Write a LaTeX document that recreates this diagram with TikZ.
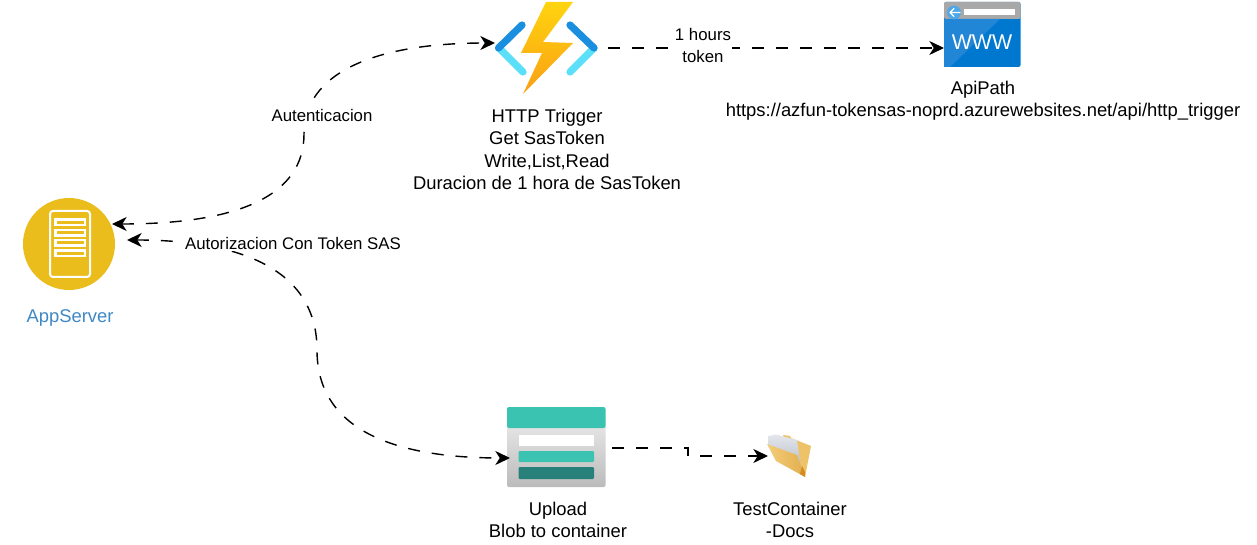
\documentclass[tikz,border=0pt]{standalone}
\usepackage{fontspec}
\setmainfont{Liberation Sans}
\usetikzlibrary{arrows.meta,calc,shapes.geometric}
\definecolor{srvgold}{HTML}{EABD1D}
\definecolor{lblblue}{HTML}{3F88C5}
\definecolor{chevdark}{HTML}{1A8FDF}
\definecolor{chevlight}{HTML}{5CE0FA}
\definecolor{bolttop}{HTML}{FFD40F}
\definecolor{boltbot}{HTML}{FA9F14}
\definecolor{webblue}{HTML}{0078D0}
\definecolor{webblue2}{HTML}{2286D6}
\definecolor{webcirc}{HTML}{4FA8E8}
\definecolor{webgrey}{HTML}{A8A8A8}
\definecolor{blobteal}{HTML}{3AC3B0}
\definecolor{blobdark}{HTML}{27807A}
\definecolor{blobtop}{HTML}{E8E8E8}
\definecolor{blobbot}{HTML}{BBBBBB}
\definecolor{foldback}{HTML}{EDC268}
\definecolor{foldfront}{HTML}{F3CD7A}
\definecolor{foldfront2}{HTML}{E2AE4E}
\definecolor{foldpaper}{HTML}{E4E7EC}
\definecolor{foldpaper2}{HTML}{B5BCC6}
\definecolor{foldedge}{HTML}{D98A1E}
\tikzset{
  x=0.75pt,y=-0.75pt,
  iconbox/.style={rectangle,draw=none,fill=none,inner sep=0pt,outer sep=0pt,anchor=north west},
  caption/.style={font=\fontsize{13.8}{16.8}\selectfont,align=center,inner sep=0pt,text=black},
  edgelabel/.style={font=\fontsize{12.6}{16}\selectfont,align=center,fill=white,inner sep=1pt,text=black},
  flow/.style={draw=black,line width=1.05pt,dash pattern=on 9pt off 9pt},
  tipped/.style={-{Stealth[length=11pt,width=10.5pt,inset=3.3pt]}},
  bothtipped/.style={{Stealth[length=11pt,width=10.5pt,inset=3.3pt]}-{Stealth[length=11pt,width=10.5pt,inset=3.3pt]}},
}
\begin{document}
\begin{tikzpicture}
\useasboundingbox[fill=white] (0,0) rectangle (1257,545);

% --- icon boxes
\node[iconbox,minimum width=69pt,minimum height=69pt] (app) at (23,198) {};
\node[iconbox,minimum width=82.5pt,minimum height=70.5pt] (func) at (494,0) {};
\node[iconbox,minimum width=57.75pt,minimum height=49.5pt] (web) at (944,2) {};
\node[iconbox,minimum width=74.25pt,minimum height=60pt] (blob) at (507,407) {};
\node[iconbox,minimum width=33pt,minimum height=33pt] (folder) at (768,434) {};

% --- AppServer
\fill[srvgold] (69,244) circle (34.5pt);
\draw[white,line width=1.5pt,rounded corners=2.2pt] (50,277) -- (50,211) -- (90,211) -- (90,277) -- cycle;
\foreach \yy in {219.5,230,240,250.5}
  \draw[white,line width=1.8pt] (55.5,\yy) rectangle (85,\yy+5.5);

% --- Function
\draw[chevlight,line width=5.4pt,line cap=round] (499,48) -- (523,72);
\draw[chevlight,line width=5.4pt,line cap=round] (594,48) -- (570,72);
\draw[chevdark,line width=5.4pt,line cap=round] (522,25) -- (498.5,48);
\draw[chevdark,line width=5.4pt,line cap=round] (570,25) -- (594,48);
\shade[top color=bolttop,bottom color=boltbot]
  (546,2) -- (573,2) -- (543,42) -- (573,43) -- (523,94) -- (542,53) -- (521,53) -- cycle;

% --- Web page
\fill[webblue,rounded corners=1.5pt] (944,2) rectangle (1020.5,67);
\fill[webgrey,rounded corners=1.5pt] (944,2) -- (1020.5,2) -- (1020.5,19) -- (944,19) -- cycle;
\fill[webblue2] (944,19) -- (1000,19) -- (950,67) -- (944,67) -- cycle;
\fill[white] (964,9.5) rectangle (1015,15);
\fill[webcirc] (954,12.5) circle (5.2pt);
\draw[white,line width=0.9pt,line cap=round,line join=round] (960,12.5) -- (950,12.5) (954,8.5) -- (950,12.5) -- (954,16.5);
\node[font=\fontsize{16}{16}\selectfont,text=white,inner sep=0pt] (wwwtext) at (982,42.5) {WWW};

% --- Blob
\shade[top color=blobtop,bottom color=blobbot,rounded corners=1.5pt] (507,420) rectangle (605.5,487);
\fill[blobteal,rounded corners=1.5pt] (507,407) rectangle (605.5,428);
\fill[white] (518.5,435) rectangle (594,446);
\fill[blobteal,rounded corners=0.8pt] (518.5,451) rectangle (594,462);
\fill[blobdark,rounded corners=0.8pt] (518.5,467) rectangle (594,479);

% --- Folder
\fill[foldback] (783,435) -- (790,436) -- (791,438) -- (811,446) -- (805,477) -- (790,452) -- cycle;
\shade[top color=foldpaper,bottom color=foldpaper2] (768,436) -- (776,434.5) -- (797,440) -- (801,468) -- (797,456) -- (768,445) -- cycle;
\shade[left color=foldfront,right color=foldfront2] (767,444) -- (797,455) -- (805,477) -- (776,461) -- cycle;
\fill[foldedge] (802,466) -- (805,472) -- (805,477) -- (800,474) -- cycle;

% --- Captions
\node[caption,text=lblblue] (applbl) at (70,318) {AppServer};
\node[caption] (funclbl) at (547,149.5) {HTTP Trigger\\Get SasToken\\Write,List,Read\\Duracion de 1 hora de SasToken};
\node[caption] (weblbl) at (983,100.5) {ApiPath\\https://azfun-tokensas-noprd.azurewebsites.net/api/http\_trigger};
\node[caption] (bloblbl) at (558,520) {Upload\\Blob to container};
\node[caption] (folderlbl) at (790,520) {TestContainer\\-Docs};

% --- Connectors
\draw[flow,bothtipped] ($(app.east)+(-3,-20)$)
  .. controls (240,224) and (304,195) .. (304,134)
  .. controls (304,75) and (370,43) .. ($(func.west)+(1,-4)$);
\node[edgelabel] (authlbl) at (322,115) {Autenticacion};
\draw[flow,bothtipped] ($(app.east)+(12,-4)$)
  .. controls (245,240) and (317,272) .. (317,350)
  .. controls (317,425) and (385,458) .. ($(blob.west)+(3,11)$);
\node[edgelabel] (authzlbl) at (293,243) {Autorizacion Con Token SAS};
\draw[flow,tipped] ($(func.east)+(4,1)$) -- (web.west |- 0,48);
\node[edgelabel] (tokenlbl) at (703,45.5) {1 hours\\token};
\draw[flow,tipped] ($(blob.east)+(6,1)$) -- (688,448) -- (688,456) -- (folder.west);
\end{tikzpicture}
\end{document}
